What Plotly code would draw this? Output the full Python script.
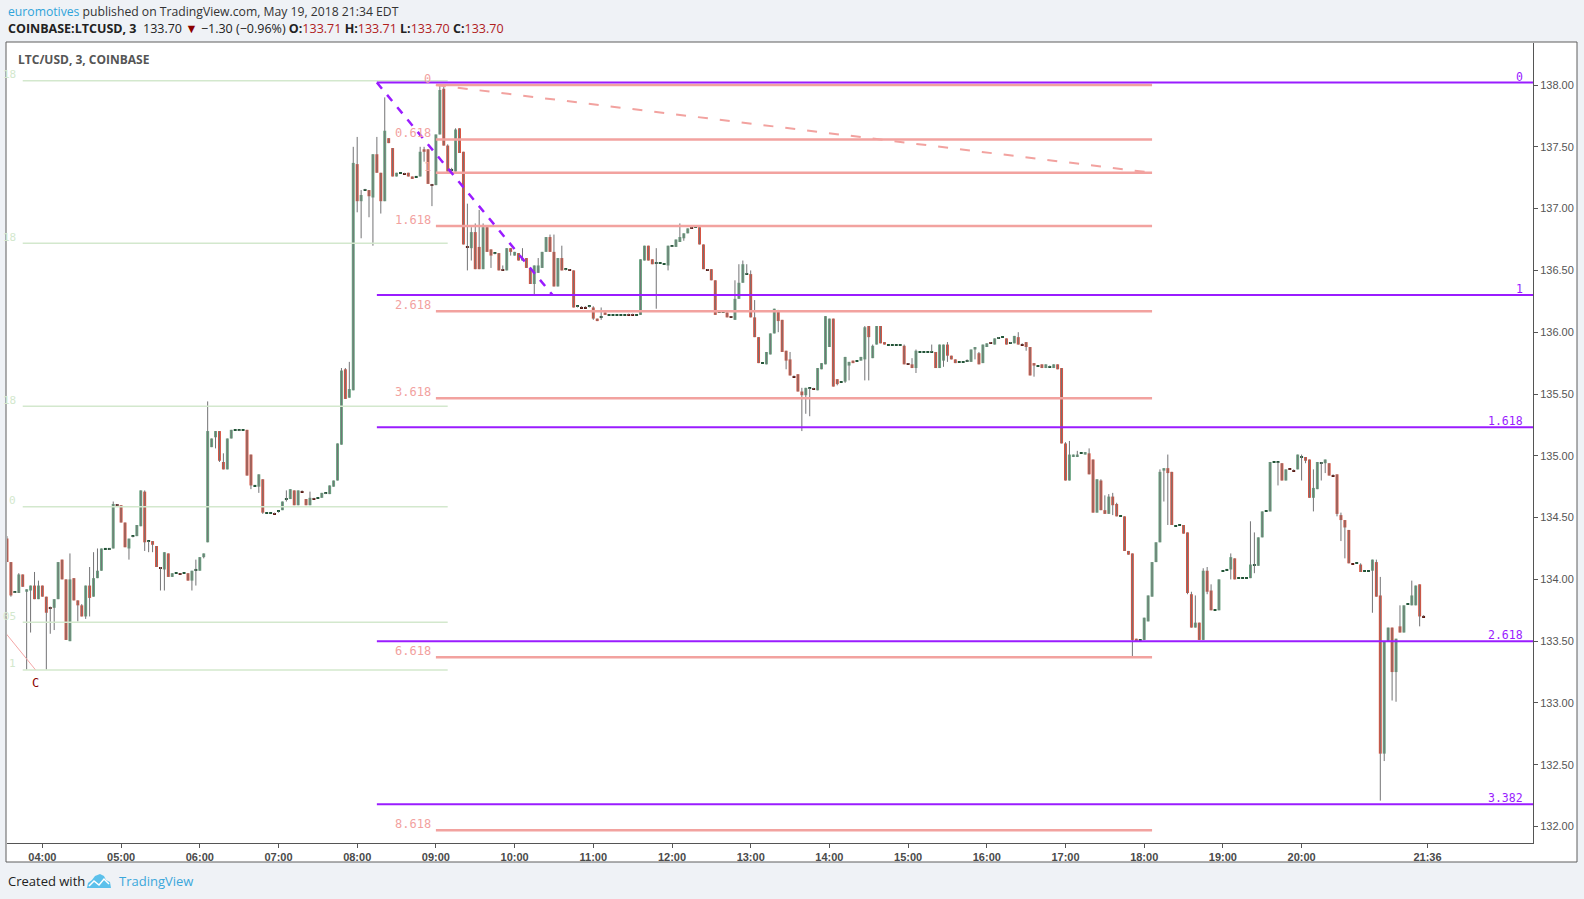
import pandas as pd
import plotly.graph_objects as go

# ---- Data: COINBASE LTC/USD, 3-minute bars, 19 May 2018 ----

first_bar = "2018-05-19 03:33"

bar_open = [
    134.33, 134.14, 133.89, 133.89, 134.04, 133.90, 133.91, 133.95, 133.84, 133.95,
    133.86, 133.78, 133.77, 133.84, 134.16, 134.00, 133.50, 134.01, 133.83, 133.79,
    133.70, 133.95, 133.86, 134.01, 134.07, 134.25, 134.25, 134.25, 134.61, 134.60,
    134.46, 134.25, 134.34, 134.35, 134.43, 134.71, 134.30, 134.31, 134.27, 134.10,
    134.08, 134.21, 134.02, 134.05, 134.05, 134.05, 134.05, 133.99, 134.07, 134.07,
    134.18, 134.30, 135.07, 135.15, 135.20, 134.95, 134.89, 135.14, 135.21, 135.21,
    135.21, 135.21, 135.01, 134.76, 134.75, 134.81, 134.54, 134.54, 134.54, 134.54,
    134.56, 134.64, 134.65, 134.72, 134.60, 134.72, 134.65, 134.60, 134.66, 134.66,
    134.66, 134.69, 134.69, 134.75, 134.80, 135.09, 135.70, 135.47, 135.53, 137.36,
    137.06, 137.15, 137.15, 137.09, 137.44, 137.29, 137.06, 137.57, 137.49, 137.26,
    137.29, 137.29, 137.29, 137.26, 137.26, 137.26, 137.48, 137.48, 137.20, 137.19,
    137.60, 137.97, 137.51, 137.30, 137.30, 137.65, 137.46, 136.70, 136.68, 136.81,
    136.69, 136.51, 136.85, 136.67, 136.63, 136.64, 136.51, 136.50, 136.68, 136.62,
    136.64, 136.58, 136.60, 136.52, 136.39, 136.48, 136.52, 136.65, 136.77, 136.65,
    136.37, 136.60, 136.50, 136.51, 136.50, 136.20, 136.21, 136.21, 136.20, 136.20,
    136.11, 136.11, 136.16, 136.14, 136.14, 136.14, 136.14, 136.14, 136.15, 136.15,
    136.14, 136.14, 136.58, 136.70, 136.59, 136.56, 136.56, 136.55, 136.54, 136.69,
    136.69, 136.73, 136.76, 136.80, 136.85, 136.85, 136.85, 136.71, 136.51, 136.51,
    136.42, 136.16, 136.16, 136.16, 136.13, 136.10, 136.27, 136.40, 136.47, 136.47,
    136.12, 135.96, 135.75, 135.74, 135.82, 135.99, 136.18, 136.10, 135.85, 135.78,
    135.65, 135.66, 135.52, 135.49, 135.55, 135.55, 135.53, 135.70, 135.74, 135.88,
    136.11, 135.62, 135.60, 135.60, 135.73, 135.77, 135.77, 135.77, 135.78, 136.05,
    135.79, 135.90, 136.05, 135.92, 135.90, 135.90, 135.90, 135.90, 135.89, 135.75,
    135.74, 135.71, 135.84, 135.84, 135.84, 135.84, 135.84, 135.71, 135.77, 135.90,
    135.81, 135.78, 135.76, 135.76, 135.77, 135.76, 135.86, 135.83, 135.75, 135.88,
    135.92, 135.90, 135.95, 135.96, 135.95, 135.91, 135.91, 135.96, 135.91, 135.92,
    135.88, 135.75, 135.73, 135.74, 135.71, 135.72, 135.71, 135.74, 135.71, 135.10,
    134.80, 134.99, 134.99, 135.02, 135.01, 135.02, 134.97, 134.54, 134.80, 134.56,
    134.53, 134.67, 134.61, 134.51, 134.51, 134.23, 134.21, 133.52, 133.51, 133.51,
    133.66, 133.86, 134.14, 134.30, 134.88, 134.90, 134.87, 134.43, 134.44, 134.44,
    134.38, 133.88, 133.61, 133.65, 133.51, 134.07, 133.91, 133.75, 133.75, 134.07,
    134.08, 134.08, 134.17, 134.01, 134.01, 134.01, 134.01, 134.12, 134.11, 134.34,
    134.55, 134.55, 134.95, 134.95, 134.94, 134.80, 134.895, 134.89, 134.89, 134.99,
    134.99, 134.97, 134.66, 134.73, 134.94, 134.94, 134.94, 134.845, 134.85, 134.52,
    134.48, 134.40, 134.13, 134.13, 134.12, 134.07, 134.07, 134.07, 134.14, 133.87,
    132.59, 133.50, 133.61, 133.25, 133.62, 133.57, 133.80, 133.79, 133.79, 133.96,
    133.71,
]

bar_high = [
    134.35, 134.14, 133.90, 134.05, 134.04, 133.92, 133.95, 134.06, 133.99, 133.95,
    133.86, 133.78, 133.84, 134.14, 134.16, 134.00, 134.21, 134.01, 133.83, 133.80,
    133.95, 134.10, 134.22, 134.25, 134.25, 134.25, 134.25, 134.63, 134.61, 134.60,
    134.46, 134.33, 134.35, 134.44, 134.72, 134.72, 134.31, 134.31, 134.27, 134.10,
    134.22, 134.21, 134.05, 134.05, 134.05, 134.05, 134.05, 134.07, 134.16, 134.18,
    134.21, 135.44, 135.14, 135.20, 135.20, 135.02, 135.14, 135.21, 135.21, 135.21,
    135.21, 135.21, 135.01, 134.76, 134.85, 134.81, 134.54, 134.54, 134.54, 134.55,
    134.63, 134.72, 134.73, 134.72, 134.72, 134.72, 134.65, 134.71, 134.66, 134.66,
    134.70, 134.70, 134.76, 134.80, 135.10, 135.71, 135.71, 135.76, 137.50, 137.58,
    137.15, 137.16, 137.15, 137.44, 137.58, 137.29, 137.90, 137.57, 137.49, 137.29,
    137.29, 137.29, 137.29, 137.26, 137.26, 137.50, 137.50, 137.48, 137.20, 137.60,
    138.00, 138.00, 137.52, 137.33, 137.65, 137.65, 137.46, 137.04, 136.85, 136.88,
    136.99, 136.88, 136.85, 136.67, 136.64, 136.64, 136.54, 136.68, 136.68, 136.65,
    136.64, 136.68, 136.60, 136.52, 136.54, 136.60, 136.65, 136.77, 136.79, 136.79,
    136.60, 136.70, 136.51, 136.51, 136.50, 136.21, 136.21, 136.21, 136.21, 136.21,
    136.11, 136.20, 136.16, 136.14, 136.14, 136.14, 136.14, 136.14, 136.15, 136.15,
    136.14, 136.59, 136.70, 136.70, 136.59, 136.68, 136.56, 136.55, 136.70, 136.70,
    136.75, 136.88, 136.80, 136.84, 136.85, 136.85, 136.85, 136.71, 136.51, 136.51,
    136.42, 136.16, 136.16, 136.16, 136.13, 136.42, 136.55, 136.58, 136.55, 136.50,
    136.26, 135.96, 135.75, 135.84, 135.99, 136.19, 136.18, 136.10, 135.85, 135.84,
    135.65, 135.66, 135.55, 135.55, 135.55, 135.55, 135.71, 135.75, 136.13, 136.11,
    136.11, 135.62, 135.60, 135.80, 135.76, 135.77, 135.77, 135.80, 136.05, 136.05,
    135.90, 136.05, 136.05, 135.92, 135.90, 135.90, 135.90, 135.90, 135.90, 135.75,
    135.79, 135.86, 135.84, 135.84, 135.84, 135.90, 135.84, 135.90, 135.90, 135.92,
    135.81, 135.78, 135.76, 135.76, 135.78, 135.86, 135.88, 135.84, 135.90, 135.91,
    135.92, 135.95, 135.96, 135.96, 135.95, 135.92, 135.97, 136.00, 135.91, 135.92,
    135.88, 135.75, 135.73, 135.74, 135.74, 135.73, 135.74, 135.74, 135.71, 135.11,
    135.12, 135.01, 135.04, 135.02, 135.03, 135.06, 134.97, 134.81, 134.81, 134.68,
    134.69, 134.70, 134.62, 134.51, 134.51, 134.23, 134.21, 133.52, 133.51, 133.69,
    133.87, 134.14, 134.30, 134.89, 134.90, 135.01, 134.87, 134.43, 134.44, 134.44,
    134.38, 133.90, 133.87, 133.65, 134.09, 134.10, 133.96, 133.75, 134.00, 134.07,
    134.08, 134.21, 134.17, 134.01, 134.01, 134.01, 134.47, 134.38, 134.34, 134.55,
    134.55, 134.95, 134.95, 134.95, 134.94, 134.89, 134.895, 134.89, 135.01, 135.01,
    134.99, 134.97, 134.89, 134.95, 134.95, 134.97, 134.94, 134.85, 134.85, 134.54,
    134.48, 134.40, 134.13, 134.13, 134.13, 134.07, 134.07, 134.16, 134.16, 134.02,
    133.50, 133.61, 133.61, 133.52, 133.79, 133.79, 133.80, 133.99, 133.95, 133.96,
    133.71,
]

bar_low = [
    134.14, 133.86, 133.89, 133.89, 133.94, 133.27, 133.57, 133.84, 133.84, 133.86,
    133.27, 133.56, 133.59, 133.84, 134.00, 133.51, 133.50, 133.83, 133.66, 133.70,
    133.68, 133.70, 133.86, 134.01, 134.07, 134.25, 134.24, 134.25, 134.59, 134.46,
    134.26, 134.16, 134.34, 134.35, 134.43, 134.23, 134.22, 134.22, 134.10, 133.91,
    133.91, 134.02, 134.02, 134.05, 134.04, 134.05, 133.99, 133.91, 133.95, 134.07,
    134.17, 134.30, 135.07, 135.06, 134.95, 134.89, 134.89, 135.14, 135.21, 135.20,
    135.21, 134.84, 134.73, 134.76, 134.70, 134.53, 134.54, 134.54, 134.53, 134.54,
    134.56, 134.63, 134.65, 134.60, 134.60, 134.71, 134.60, 134.60, 134.65, 134.66,
    134.66, 134.69, 134.69, 134.75, 134.80, 135.09, 135.46, 135.47, 135.53, 136.97,
    136.76, 137.15, 136.93, 136.70, 137.29, 136.96, 137.06, 137.53, 137.26, 137.26,
    137.29, 137.28, 137.26, 137.24, 137.26, 137.26, 137.38, 137.20, 137.02, 137.19,
    137.60, 137.51, 137.30, 137.28, 137.30, 137.45, 136.71, 136.50, 136.58, 136.51,
    136.51, 136.51, 136.65, 136.52, 136.63, 136.50, 136.50, 136.50, 136.62, 136.62,
    136.58, 136.58, 136.52, 136.39, 136.30, 136.48, 136.52, 136.65, 136.65, 136.37,
    136.37, 136.50, 136.50, 136.50, 136.20, 136.20, 136.20, 136.20, 136.20, 136.10,
    136.09, 136.10, 136.14, 136.14, 136.14, 136.14, 136.14, 136.14, 136.14, 136.14,
    136.14, 136.14, 136.58, 136.58, 136.55, 136.19, 136.56, 136.55, 136.50, 136.69,
    136.69, 136.73, 136.74, 136.80, 136.84, 136.85, 136.71, 136.51, 136.50, 136.42,
    136.14, 136.16, 136.16, 136.12, 136.12, 136.10, 136.27, 136.40, 136.47, 136.12,
    135.96, 135.75, 135.75, 135.74, 135.82, 135.99, 136.00, 135.84, 135.70, 135.65,
    135.64, 135.52, 135.20, 135.34, 135.32, 135.54, 135.53, 135.70, 135.74, 135.88,
    135.56, 135.57, 135.60, 135.59, 135.61, 135.75, 135.77, 135.77, 135.61, 135.61,
    135.79, 135.90, 135.91, 135.90, 135.90, 135.90, 135.90, 135.90, 135.74, 135.74,
    135.71, 135.67, 135.84, 135.84, 135.84, 135.84, 135.71, 135.71, 135.72, 135.76,
    135.78, 135.75, 135.76, 135.76, 135.76, 135.76, 135.78, 135.74, 135.75, 135.88,
    135.91, 135.90, 135.95, 135.96, 135.90, 135.91, 135.91, 135.90, 135.90, 135.85,
    135.65, 135.64, 135.73, 135.71, 135.71, 135.72, 135.71, 135.70, 135.10, 134.80,
    134.80, 134.99, 134.99, 135.02, 135.01, 134.85, 134.54, 134.54, 134.56, 134.53,
    134.53, 134.52, 134.51, 134.51, 134.23, 134.20, 133.37, 133.50, 133.51, 133.51,
    133.66, 133.86, 134.14, 134.30, 134.63, 134.44, 134.44, 134.43, 134.44, 134.37,
    133.88, 133.61, 133.61, 133.51, 133.51, 133.88, 133.75, 133.75, 133.75, 134.07,
    134.08, 134.00, 134.00, 134.01, 134.01, 134.01, 134.01, 134.05, 134.11, 134.34,
    134.55, 134.55, 134.95, 134.76, 134.80, 134.80, 134.89, 134.88, 134.89, 134.80,
    134.94, 134.66, 134.55, 134.73, 134.80, 134.86, 134.84, 134.84, 134.51, 134.31,
    134.17, 134.13, 134.13, 134.13, 134.06, 134.07, 134.07, 133.73, 133.86, 132.21,
    132.53, 133.50, 133.02, 133.01, 133.57, 133.57, 133.80, 133.79, 133.79, 133.62,
    133.70,
]

bar_close = [
    134.14, 133.87, 133.90, 134.04, 133.94, 133.92, 133.95, 133.84, 133.95, 133.86,
    133.73, 133.77, 133.84, 134.14, 134.00, 133.51, 134.00, 133.83, 133.79, 133.70,
    133.95, 133.85, 134.01, 134.07, 134.25, 134.25, 134.25, 134.61, 134.60, 134.46,
    134.26, 134.33, 134.35, 134.44, 134.72, 134.30, 134.31, 134.28, 134.10, 134.09,
    134.22, 134.02, 134.05, 134.05, 134.04, 134.05, 133.99, 134.07, 134.08, 134.18,
    134.21, 135.20, 135.14, 135.20, 134.96, 134.89, 135.14, 135.21, 135.21, 135.21,
    135.21, 134.84, 134.76, 134.76, 134.85, 134.54, 134.54, 134.54, 134.53, 134.55,
    134.63, 134.65, 134.73, 134.60, 134.72, 134.71, 134.60, 134.66, 134.65, 134.66,
    134.70, 134.70, 134.76, 134.80, 135.10, 135.69, 135.46, 135.54, 137.37, 137.06,
    137.11, 137.15, 137.10, 137.44, 137.29, 137.06, 137.63, 137.53, 137.26, 137.29,
    137.29, 137.28, 137.26, 137.24, 137.26, 137.46, 137.46, 137.20, 137.19, 137.60,
    137.96, 137.51, 137.30, 137.31, 137.64, 137.45, 136.71, 136.69, 136.81, 136.51,
    136.51, 136.85, 136.65, 136.62, 136.64, 136.50, 136.50, 136.68, 136.65, 136.65,
    136.58, 136.60, 136.52, 136.39, 136.54, 136.54, 136.65, 136.77, 136.65, 136.37,
    136.60, 136.50, 136.51, 136.50, 136.20, 136.21, 136.20, 136.20, 136.21, 136.11,
    136.09, 136.12, 136.14, 136.14, 136.14, 136.14, 136.14, 136.14, 136.14, 136.14,
    136.14, 136.59, 136.70, 136.58, 136.55, 136.56, 136.56, 136.55, 136.70, 136.70,
    136.75, 136.77, 136.80, 136.84, 136.84, 136.85, 136.71, 136.51, 136.50, 136.42,
    136.14, 136.16, 136.16, 136.12, 136.12, 136.27, 136.40, 136.55, 136.47, 136.12,
    135.96, 135.75, 135.75, 135.84, 135.99, 136.19, 136.09, 135.84, 135.77, 135.65,
    135.64, 135.52, 135.49, 135.55, 135.55, 135.54, 135.71, 135.75, 136.13, 136.11,
    135.56, 135.58, 135.60, 135.80, 135.76, 135.75, 135.77, 135.80, 136.04, 135.96,
    135.89, 136.05, 135.91, 135.90, 135.90, 135.90, 135.90, 135.90, 135.74, 135.74,
    135.71, 135.85, 135.84, 135.84, 135.84, 135.84, 135.71, 135.90, 135.90, 135.81,
    135.78, 135.75, 135.76, 135.76, 135.77, 135.86, 135.88, 135.74, 135.90, 135.91,
    135.91, 135.95, 135.95, 135.96, 135.90, 135.91, 135.97, 135.90, 135.90, 135.88,
    135.65, 135.73, 135.73, 135.71, 135.74, 135.72, 135.74, 135.70, 135.10, 134.80,
    135.01, 135.01, 135.01, 135.02, 135.03, 134.85, 134.54, 134.81, 134.56, 134.53,
    134.67, 134.60, 134.51, 134.51, 134.23, 134.20, 133.51, 133.50, 133.51, 133.69,
    133.87, 134.14, 134.30, 134.87, 134.90, 134.86, 134.44, 134.43, 134.44, 134.37,
    133.89, 133.61, 133.65, 133.51, 134.07, 133.90, 133.75, 133.75, 134.00, 134.07,
    134.08, 134.18, 134.00, 134.01, 134.01, 134.01, 134.12, 134.12, 134.34, 134.55,
    134.55, 134.95, 134.95, 134.95, 134.80, 134.89, 134.89, 134.88, 135.01, 134.99,
    134.96, 134.66, 134.74, 134.95, 134.94, 134.97, 134.84, 134.84, 134.53, 134.48,
    134.42, 134.13, 134.125, 134.13, 134.06, 134.07, 134.07, 134.16, 133.86, 132.59,
    133.50, 133.61, 133.25, 133.52, 133.57, 133.79, 133.80, 133.87, 133.95, 133.70,
    133.70,
]

# Time axis labels
tick_times = [
    "2018-05-19 04:00", "2018-05-19 05:00", "2018-05-19 06:00", "2018-05-19 07:00",
    "2018-05-19 08:00", "2018-05-19 09:00", "2018-05-19 10:00", "2018-05-19 11:00",
    "2018-05-19 12:00", "2018-05-19 13:00", "2018-05-19 14:00", "2018-05-19 15:00",
    "2018-05-19 16:00", "2018-05-19 17:00", "2018-05-19 18:00", "2018-05-19 19:00",
    "2018-05-19 20:00", "2018-05-19 21:36",
]
tick_labels = [
    "04:00", "05:00", "06:00", "07:00", "08:00", "09:00", "10:00", "11:00", "12:00",
    "13:00", "14:00", "15:00", "16:00", "17:00", "18:00", "19:00", "20:00", "21:36",
]
price_ticks = [132.0, 132.5, 133.0, 133.5, 134.0, 134.5, 135.0, 135.5, 136.0, 136.5, 137.0, 137.5, 138.0]

# Fib extension (purple) anchored at 08:15
ext_levels = [138.02, 136.30, 135.23, 133.50, 132.18]
ext_labels = ["0", "1", "1.618", "2.618", "3.382"]
ext_span = ["2018-05-19 08:15", "2018-05-19 23:30"]
ext_trend_times = ["2018-05-19 08:15", "2018-05-19 10:29"]
ext_trend_prices = [138.02, 136.30]

# Fib extension (pink) anchored at 09:00
pink_levels = [138.00, 137.56, 137.29, 136.86, 136.17, 135.465, 133.37, 131.97]
pink_labels = ["0", "0.618", "1", "1.618", "2.618", "3.618", "6.618", "8.618"]
pink_span = ["2018-05-19 09:00", "2018-05-19 18:06"]
pink_trend_times = ["2018-05-19 09:00", "2018-05-19 18:06"]
pink_trend_prices = [138.00, 137.29]

# Older fib retracement (light green) on the left; only the label tails show at the edge
old_levels = [138.035, 136.72, 135.40, 134.588, 133.653, 133.267]
old_labels = ["18", "18", "18", "0", "05", "1"]
old_span = ["2018-05-19 03:45", "2018-05-19 09:09"]

# Pattern leg and its "C" point
leg_times = ["2018-05-19 03:24", "2018-05-19 03:54:36"]
leg_prices = [133.67, 133.27]
point_c = ("2018-05-19 03:54:36", 133.16)

# ---- Style ----
UP, DOWN = "#6BA583", "#D75442"
UP_DARK, DOWN_DARK = "#225437", "#5B1A13"
WICK = "#737375"
PURPLE = "#9A1CFF"
PINK = "#F2A29F"
PALE_GREEN = "#D3E8CD"
MONO = "DejaVu Sans Mono"
SANS = "Open Sans"

W, H = 1584, 899
PLOT_L, PLOT_R, PLOT_T, PLOT_B = 7, 1533, 43, 843


def to_paper(px, py):
    return (px - PLOT_L) / (PLOT_R - PLOT_L), (PLOT_B - py) / (PLOT_B - PLOT_T)


times = pd.date_range(first_bar, periods=len(bar_close), freq="3min")

# Wicks
wick_x, wick_y = [], []
for t, lo, hi in zip(times, bar_low, bar_high):
    wick_x += [t, t, None]
    wick_y += [lo, hi, None]

# Bodies
body_base, body_len, body_color = [], [], []
for o, c in zip(bar_open, bar_close):
    up = c >= o
    if abs(c - o) < 0.012:
        body_base.append(c - 0.0045)
        body_len.append(0.009)
        body_color.append(UP_DARK if up else DOWN_DARK)
    else:
        body_base.append(min(o, c))
        body_len.append(abs(c - o))
        body_color.append(UP if up else DOWN)

fig = go.Figure()

fig.add_trace(go.Scatter(
    x=wick_x, y=wick_y, mode="lines",
    line=dict(color=WICK, width=1), hoverinfo="skip"
))
fig.add_trace(go.Bar(
    x=times, y=body_len, base=body_base, width=135000,
    marker=dict(color=body_color, line=dict(width=0)),
    hoverinfo="skip"
))


def level_lines(levels, span, color, width):
    xs, ys = [], []
    for lv in levels:
        xs += [span[0], span[1], None]
        ys += [lv, lv, None]
    return go.Scatter(x=xs, y=ys, mode="lines", line=dict(color=color, width=width), hoverinfo="skip")


# Older green retracement
fig.add_trace(level_lines(old_levels, old_span, PALE_GREEN, 1.5))

# Pattern leg
fig.add_trace(go.Scatter(
    x=leg_times, y=leg_prices, mode="lines",
    line=dict(color="#F4A6A6", width=1), hoverinfo="skip"
))

# Pink extension
fig.add_trace(level_lines(pink_levels, pink_span, PINK, 2.5))
fig.add_trace(go.Scatter(
    x=pink_trend_times, y=pink_trend_prices, mode="lines",
    line=dict(color=PINK, width=2, dash="10px,12px"), hoverinfo="skip"
))

# Purple extension
fig.add_trace(level_lines(ext_levels, ext_span, PURPLE, 2))
fig.add_trace(go.Scatter(
    x=ext_trend_times, y=ext_trend_prices, mode="lines",
    line=dict(color=PURPLE, width=2.5, dash="8px,8px"), hoverinfo="skip"
))

annotations = []
for lv, lab in zip(old_levels, old_labels):
    annotations.append(dict(
        x="2018-05-19 03:41:24", y=lv, xref="x", yref="y", text=lab, showarrow=False,
        xanchor="right", yanchor="middle", yshift=6,
        font=dict(family=MONO, size=11, color=PALE_GREEN)
    ))
for lv, lab in zip(pink_levels, pink_labels):
    annotations.append(dict(
        x=pink_span[0], y=lv, xref="x", yref="y", text=lab, showarrow=False,
        xanchor="right", yanchor="middle", xshift=-3, yshift=6,
        font=dict(family=MONO, size=12, color=PINK)
    ))
for lv, lab in zip(ext_levels, ext_labels):
    annotations.append(dict(
        x="2018-05-19 22:50:20", y=lv, xref="x", yref="y", text=lab, showarrow=False,
        xanchor="right", yanchor="middle", yshift=6,
        font=dict(family=MONO, size=11.5, color=PURPLE)
    ))
annotations.append(dict(
    x=point_c[0], y=point_c[1], xref="x", yref="y", text="C", showarrow=False,
    xanchor="center", yanchor="middle", font=dict(family=MONO, size=12, color="#8B0000")
))

# Header, chart title and footer
px, py = to_paper(6, 11.5)
annotations.append(dict(
    x=px, y=py, xref="paper", yref="paper", xanchor="left", yanchor="middle", showarrow=False,
    text="<span style='color:#2FA4DA'>euromotives</span> published on TradingView.com, May 19, 2018 21:34 EDT",
    font=dict(family=SANS, size=12.2, color="#333333")
))
red = "#B0201C"
px, py = to_paper(6, 29)
annotations.append(dict(
    x=px, y=py, xref="paper", yref="paper", xanchor="left", yanchor="middle", showarrow=False,
    text=("<b>COINBASE:LTCUSD, 3</b>  133.70 <span style='color:#8B0000'>▼</span> −1.30 (−0.96%) "
          f"<b>O:</b><span style='color:{red}'>133.71</span> <b>H:</b><span style='color:{red}'>133.71</span> "
          f"<b>L:</b><span style='color:{red}'>133.70</span> <b>C:</b><span style='color:{red}'>133.70</span>"),
    font=dict(family=SANS, size=12.5, color="#222222")
))
px, py = to_paper(16, 60)
annotations.append(dict(
    x=px, y=py, xref="paper", yref="paper", xanchor="left", yanchor="middle", showarrow=False,
    text="<b>LTC/USD, 3, COINBASE</b>", font=dict(family=SANS, size=12, color="#555555")
))
px, py = to_paper(6, 881)
annotations.append(dict(
    x=px, y=py, xref="paper", yref="paper", xanchor="left", yanchor="middle", showarrow=False,
    text="Created with", font=dict(family=SANS, size=13, color="#222222")
))
px, py = to_paper(117, 881)
annotations.append(dict(
    x=px, y=py, xref="paper", yref="paper", xanchor="left", yanchor="middle", showarrow=False,
    text="TradingView", font=dict(family=SANS, size=13, color="#3BA7DB")
))


def paper_path(points, close=True):
    pts = [to_paper(x, y) for x, y in points]
    d = "M " + " L ".join(f"{x:.5f},{y:.5f}" for x, y in pts)
    return d + (" Z" if close else "")


x0, y0 = to_paper(6, 42)
x1, y1 = to_paper(1577, 862)
shapes = [
    dict(type="rect", xref="paper", yref="paper", x0=x0, y0=y0, x1=x1, y1=y1,
         fillcolor="white", line=dict(color="#5F5F5F", width=1), layer="below"),
    dict(type="path", xref="paper", yref="paper", layer="above",
         path=paper_path([(87, 888), (88, 883), (92, 880), (95, 876), (100, 874), (104, 876),
                          (106, 880), (110, 882), (111, 888)]),
         fillcolor="#5BC0EB", line=dict(width=0)),
    dict(type="path", xref="paper", yref="paper", layer="above",
         path=paper_path([(89, 886), (94, 881), (99, 885), (104, 879), (109, 884)], close=False),
         line=dict(color="white", width=1.5)),
]

fig.update_layout(
    width=W, height=H,
    margin=dict(l=PLOT_L, r=W - PLOT_R, t=PLOT_T, b=H - PLOT_B),
    paper_bgcolor="#EFF2F6", plot_bgcolor="white",
    showlegend=False, hovermode=False,
    annotations=annotations, shapes=shapes,
    xaxis=dict(
        type="date", range=["2018-05-19 03:33:01", "2018-05-19 22:56:25"],
        tickvals=tick_times, ticktext=tick_labels,
        showgrid=False, zeroline=False, showline=True, linecolor="#555555", linewidth=1,
        ticks="outside", ticklen=4, tickcolor="#555555",
        tickfont=dict(family="Liberation Sans", size=11, color="#4A4A4A", weight="bold"),
    ),
    yaxis=dict(
        side="right", range=[131.867, 138.34],
        tickvals=price_ticks, tickformat=".2f",
        showgrid=False, zeroline=False, showline=True, linecolor="#555555", linewidth=1,
        ticks="outside", ticklen=4, tickcolor="#555555",
        tickfont=dict(family="Liberation Sans", size=11, color="#555555"),
    ),
)

# Drop the default page margin so the figure sits at the window's top-left corner
fig.write_html(
    "out.html",
    config={"displayModeBar": False},
    post_script="document.body.style.margin='0';",
)
